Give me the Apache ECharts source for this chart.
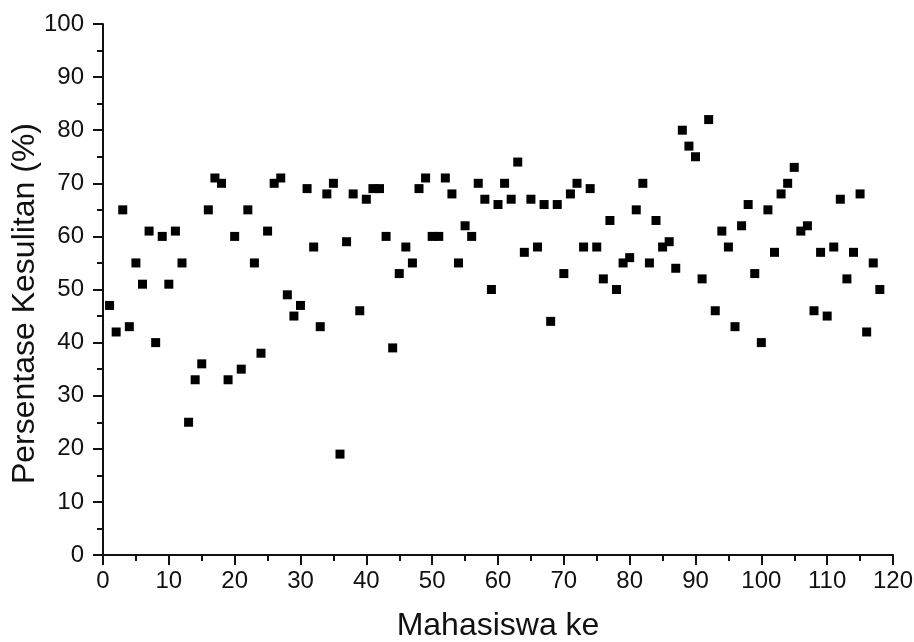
<!DOCTYPE html>
<html>
<head>
<meta charset="utf-8">
<script src="https://cdn.jsdelivr.net/npm/echarts@6/dist/echarts.min.js"></script>
<style>
html,body{margin:0;padding:0;background:#fff;}
#chart{width:914px;height:642px;}
</style>
</head>
<body>
<div id="chart"></div>
<script>
const students = [];
for (let i = 1; i <= 118; i++) students.push(i);
const difficulty = [
  47,42,65,43,55,51,61,40,60,51,
  61,55,25,33,36,65,71,70,33,60,
  35,65,55,38,61,70,71,49,45,47,
  69,58,43,68,70,19,59,68,46,67,
  69,69,60,39,53,58,55,69,71,60,
  60,71,68,55,62,60,70,67,50,66,
  70,67,74,57,67,58,66,44,66,53,
  68,70,58,69,58,52,63,50,55,56,
  65,70,55,63,58,59,54,80,77,75,
  52,82,46,61,58,43,62,66,53,40,
  65,57,68,70,73,61,62,46,57,45,
  58,67,52,57,68,42,55,50
];
const xTitle = 'Mahasiswa ke';
const yTitle = 'Persentase Kesulitan (%)';

const points = students.map((s, i) => [s, difficulty[i]]);
const font = '"Liberation Sans", Arial, sans-serif';
const ink = '#111';

const chart = echarts.init(document.getElementById('chart'), null, {renderer: 'canvas'});
chart.setOption({
  animation: false,
  backgroundColor: '#fff',
  grid: {left: 103, right: 21, top: 24, bottom: 87, containLabel: false, outerBoundsMode: 'none'},
  xAxis: {
    type: 'value', min: 0, max: 120, interval: 10,
    name: xTitle, nameLocation: 'middle', nameGap: 55, nameMoveOverlap: false,
    nameTextStyle: {fontFamily: font, fontSize: 32, color: ink},
    axisLine: {onZero: false, lineStyle: {color: ink, width: 2}},
    axisTick: {show: true, inside: false, length: 10, lineStyle: {color: ink, width: 2}},
    minorTick: {show: true, splitNumber: 2, length: 6, lineStyle: {color: ink, width: 2}},
    axisLabel: {fontFamily: font, fontSize: 24, color: ink, margin: 14},
    splitLine: {show: false}
  },
  yAxis: {
    type: 'value', min: 0, max: 100, interval: 10,
    name: yTitle, nameLocation: 'middle', nameGap: 62, nameMoveOverlap: false,
    nameTextStyle: {fontFamily: font, fontSize: 32, color: ink, padding: [0, 28, 0, 0]},
    axisLine: {onZero: false, lineStyle: {color: ink, width: 2}},
    axisTick: {show: true, inside: false, length: 10, lineStyle: {color: ink, width: 2}},
    minorTick: {show: true, splitNumber: 2, length: 6, lineStyle: {color: ink, width: 2}},
    axisLabel: {fontFamily: font, fontSize: 24, color: ink, margin: 19},
    splitLine: {show: false}
  },
  series: [{
    type: 'scatter',
    data: points,
    symbol: 'rect',
    symbolSize: 9,
    itemStyle: {color: '#000', opacity: 1}
  }]
});
</script>
</body>
</html>
